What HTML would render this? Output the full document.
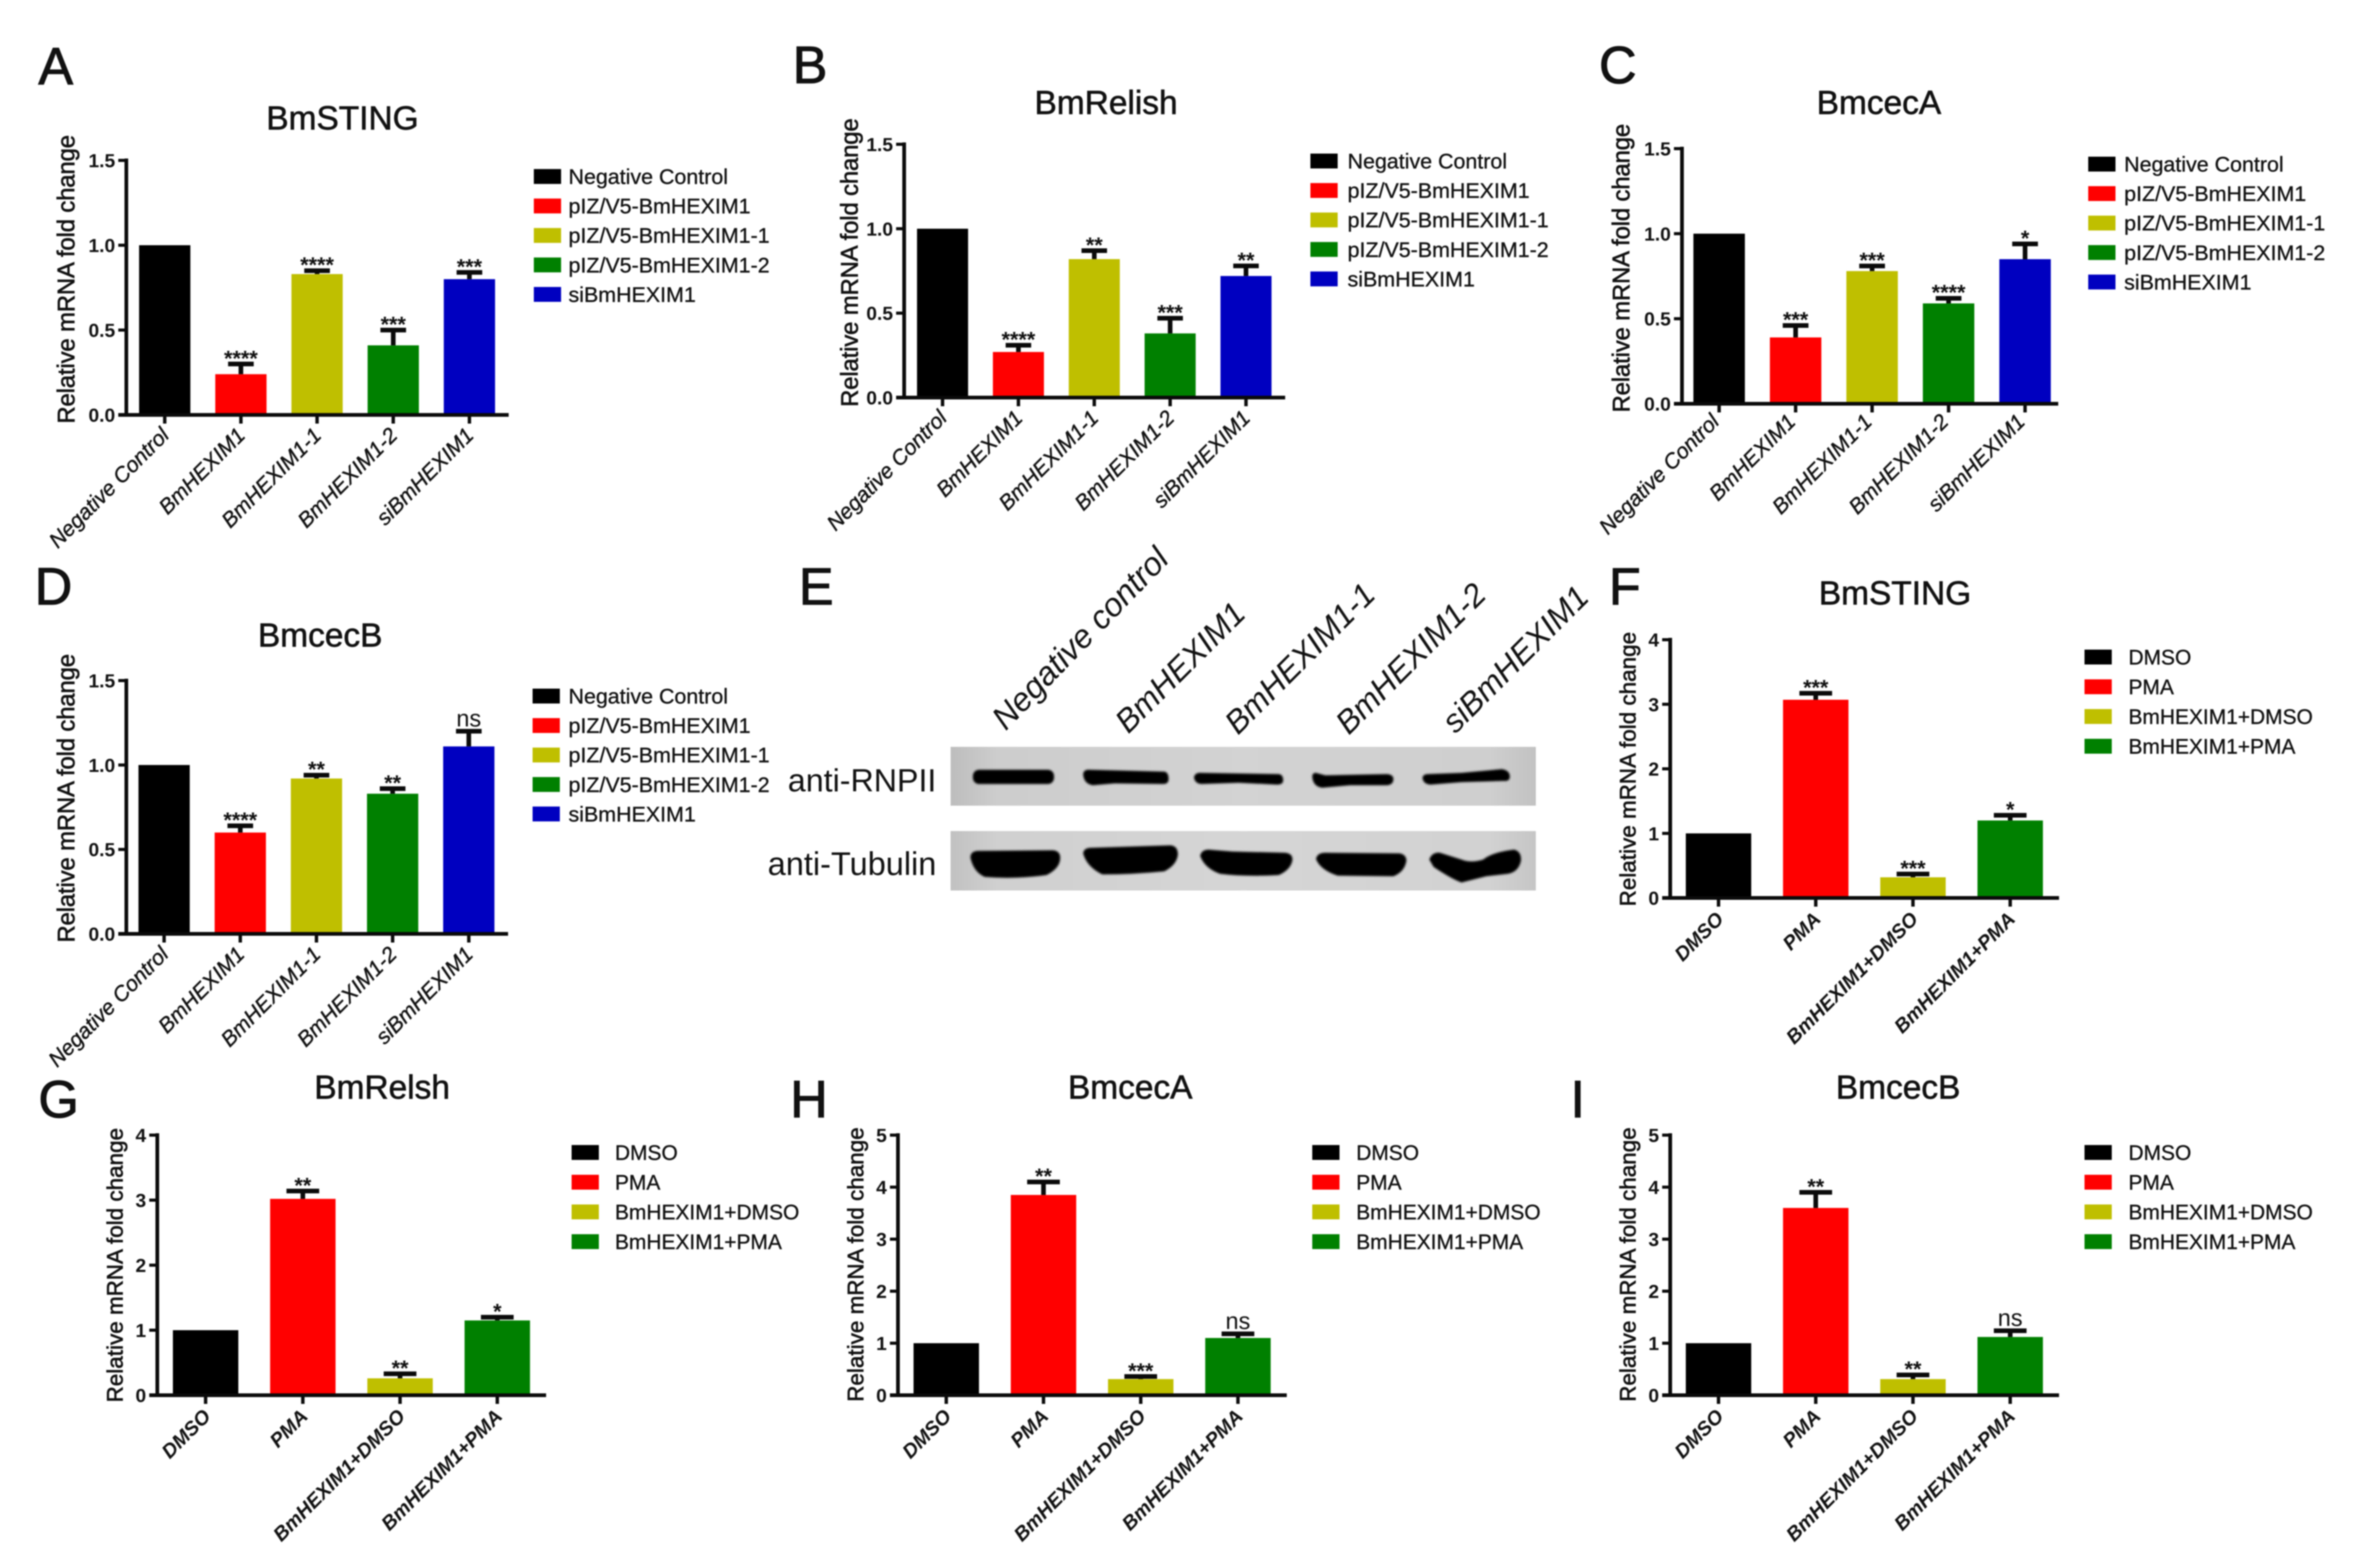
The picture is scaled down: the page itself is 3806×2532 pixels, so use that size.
<!DOCTYPE html>
<html lang="en">
<head>
<meta charset="utf-8">
<title>BmHEXIM1 multi-panel figure</title>
<style>
  html, body { margin: 0; padding: 0; background: #fff; }
  #figure { display: block; filter: blur(1px); font-family: "Liberation Sans", Arial, sans-serif; }
  text { fill: #111; }
</style>
</head>
<body>
<svg id="figure" xmlns="http://www.w3.org/2000/svg" width="3806" height="2532" viewBox="0 0 3806 2532">
  <defs>
    <filter id="band-blur" x="-10%" y="-30%" width="120%" height="160%"><feGaussianBlur stdDeviation="1.5"/></filter>
    <linearGradient id="blot-shade" x1="0" y1="0" x2="1" y2="0">
      <stop offset="0" stop-color="#bdbdbd"/>
      <stop offset="0.08" stop-color="#cdcdcd"/>
      <stop offset="0.5" stop-color="#d3d3d3"/>
      <stop offset="0.92" stop-color="#cfcfcf"/>
      <stop offset="1" stop-color="#c2c2c2"/>
    </linearGradient>
  </defs>
  <rect width="3806" height="2532" fill="#fff"/>

  <g font-size="84" stroke="#111" stroke-width="1.5">
    <text x="62" y="136">A</text>
    <text x="1280" y="134">B</text>
    <text x="2582" y="134">C</text>
    <text x="56" y="976">D</text>
    <text x="1290" y="976">E</text>
    <text x="2598" y="976">F</text>
    <text x="62" y="1804">G</text>
    <text x="1276" y="1804">H</text>
    <text x="2536" y="1804">I</text>
  </g>

  <g>
    <rect x="1535" y="1206" width="945" height="95" fill="url(#blot-shade)"/>
    <rect x="1535" y="1342" width="945" height="96" fill="url(#blot-shade)" opacity="0.94"/>
    <g filter="url(#band-blur)" fill="#060606">
      <rect x="1571" y="1243" width="131" height="23" rx="10"/>
      <path d="M1749 1250 Q1750 1242 1760 1243 L1880 1246 Q1887 1247 1887 1258 Q1887 1266 1878 1266 L1800 1265 L1765 1268 Q1750 1266 1749 1250 Z"/>
      <path d="M1928 1255 Q1930 1247 1940 1248 L2065 1250 Q2072 1251 2072 1260 Q2072 1267 2062 1267 L2000 1264 L1940 1266 Q1929 1265 1928 1255 Z"/>
      <path d="M2119 1254 Q2119 1248 2125 1248 L2140 1252 L2240 1250 Q2250 1251 2250 1258 Q2250 1267 2240 1268 L2180 1268 L2135 1272 Q2120 1270 2119 1254 Z"/>
      <path d="M2297 1256 Q2298 1250 2306 1250 L2360 1248 L2425 1242 Q2438 1244 2438 1254 Q2438 1262 2428 1261 L2360 1263 L2310 1267 Q2298 1266 2297 1256 Z"/>
    </g>
    <g filter="url(#band-blur)" fill="#030303">
      <path d="M1567 1385 Q1567 1374 1580 1374 L1700 1373 Q1712 1374 1712 1385 Q1712 1402 1690 1413 Q1640 1420 1590 1416 Q1572 1408 1567 1385 Z"/>
      <path d="M1749 1378 Q1750 1369 1762 1369 L1890 1365 Q1902 1366 1902 1380 Q1900 1397 1880 1407 Q1830 1412 1780 1412 Q1755 1400 1749 1378 Z"/>
      <path d="M1938 1382 Q1940 1372 1952 1372 L1990 1375 L2075 1377 Q2087 1378 2087 1388 Q2085 1404 2065 1413 Q2010 1416 1970 1411 Q1945 1402 1938 1382 Z"/>
      <path d="M2125 1387 Q2127 1377 2140 1377 L2260 1378 Q2271 1380 2271 1390 Q2268 1408 2250 1415 L2160 1414 Q2132 1405 2125 1387 Z"/>
      <path d="M2308 1388 Q2312 1376 2325 1377 L2360 1388 Q2375 1394 2395 1388 Q2410 1376 2445 1372 Q2457 1375 2456 1390 Q2452 1408 2435 1411 L2400 1415 L2360 1425 Q2345 1420 2315 1400 Z"/>
    </g>
    <text x="1512" y="1278" font-size="52" text-anchor="end">anti-RNPII</text>
    <text x="1512" y="1413" font-size="52.5" text-anchor="end">anti-Tubulin</text>
    <g font-size="52" font-style="italic">
      <text transform="translate(1624 1181) rotate(-46)" font-size="53">Negative control</text>
      <text transform="translate(1822 1186) rotate(-45)">BmHEXIM1</text>
      <text transform="translate(1999 1188) rotate(-45)">BmHEXIM1-1</text>
      <text transform="translate(2178 1188) rotate(-45)">BmHEXIM1-2</text>
      <text transform="translate(2350 1186) rotate(-45)">siBmHEXIM1</text>
    </g>
  </g>

  <g id="charts"></g>
</svg>

<script>
// ---- shared categories, legends and tick labels ----
const categoriesKnockdown = ['Negative Control', 'BmHEXIM1', 'BmHEXIM1-1', 'BmHEXIM1-2', 'siBmHEXIM1'];
const legendKnockdown = ['Negative Control', 'pIZ/V5-BmHEXIM1', 'pIZ/V5-BmHEXIM1-1', 'pIZ/V5-BmHEXIM1-2', 'siBmHEXIM1'];
const categoriesPma = ['DMSO', 'PMA', 'BmHEXIM1+DMSO', 'BmHEXIM1+PMA'];
const legendPma = ['DMSO', 'PMA', 'BmHEXIM1+DMSO', 'BmHEXIM1+PMA'];
const ticksKnockdown = ['0.0', '0.5', '1.0', '1.5'];
const ticksPmaF = ['0', '1', '2', '3', '4'];
const ticksPmaH = ['0', '1', '2', '3', '4', '5'];

// ---- series values ----
const valuesA = [1.0, 0.24, 0.83, 0.41, 0.80];
const errorsA = [0, 0.06, 0.02, 0.09, 0.04];
const marksA = ['', '****', '****', '***', '***'];

const valuesB = [1.0, 0.27, 0.82, 0.38, 0.72];
const errorsB = [0, 0.04, 0.05, 0.09, 0.06];
const marksB = ['', '****', '**', '***', '**'];

const valuesC = [1.0, 0.39, 0.78, 0.59, 0.85];
const errorsC = [0, 0.07, 0.03, 0.03, 0.09];
const marksC = ['', '***', '***', '****', '*'];

const valuesD = [1.0, 0.60, 0.92, 0.83, 1.11];
const errorsD = [0, 0.04, 0.02, 0.03, 0.09];
const marksD = ['', '****', '**', '**', 'ns'];

const valuesF = [1.0, 3.07, 0.32, 1.20];
const errorsF = [0, 0.10, 0.05, 0.08];
const marksF = ['', '***', '***', '*'];

const valuesG = [1.0, 3.02, 0.26, 1.15];
const errorsG = [0, 0.12, 0.07, 0.05];
const marksG = ['', '**', '**', '*'];

const valuesH = [1.0, 3.85, 0.31, 1.10];
const errorsH = [0, 0.25, 0.05, 0.08];
const marksH = ['', '**', '***', 'ns'];

const valuesI = [1.0, 3.60, 0.31, 1.12];
const errorsI = [0, 0.30, 0.08, 0.12];
const marksI = ['', '**', '**', 'ns'];

const barColors = ['#000000', '#ff0000', '#bfbf00', '#008000', '#0000c0'];
const SVG_NS = 'http://www.w3.org/2000/svg';

function make(tag, attrs, parent, content) {
  const node = document.createElementNS(SVG_NS, tag);
  for (const key in attrs) node.setAttribute(key, attrs[key]);
  if (content !== undefined) node.textContent = content;
  parent.appendChild(node);
  return node;
}

function drawChart(cfg) {
  const root = document.getElementById('charts');
  const group = make('g', {}, root);
  
  

  const yMax = parseFloat(cfg.ticks[cfg.ticks.length - 1]);
  const yScale = function (v) { return cfg.y0 - (v / yMax) * (cfg.y0 - cfg.yTop); };
  const xScale = function (i) { return cfg.axisX + cfg.firstOffset + cfg.step * i; };
  const barWidth = cfg.step * 0.673;
  const n = cfg.categories.length;
  const ink = '#0a0a0a';

  const title = make('text', { x: cfg.titleX, y: cfg.titleY, 'font-size': 54, 'text-anchor': 'middle', stroke: '#111', 'stroke-width': 0.9 }, group, cfg.title);
  
  

  const yTitle = make('text', { transform: 'translate(' + cfg.yTitleX + ' ' + cfg.yTitleY + ') rotate(-90)', 'font-size': cfg.yTitleSize, 'text-anchor': 'middle', stroke: '#111', 'stroke-width': 0.9, textLength: cfg.yTitleLength, lengthAdjust: 'spacing' }, group, 'Relative mRNA fold change');
  
  

  cfg.values.forEach(function (value, i) {
    const cx = xScale(i);
    const bar = make('rect', { x: cx - barWidth / 2, y: yScale(value), width: barWidth, height: cfg.y0 - yScale(value), fill: barColors[i] }, group);
    
    

    const err = cfg.errors[i];
    if (err > 0) {
      const capY = yScale(value + err);
      const stem = make('line', { x1: cx, x2: cx, y1: yScale(value), y2: capY, stroke: ink, 'stroke-width': 7.5 }, group);
      
      
      const cap = make('line', { x1: cx - barWidth / 4, x2: cx + barWidth / 4, y1: capY, y2: capY, stroke: ink, 'stroke-width': 7.5 }, group);
      
      
    }

    const mark = cfg.marks[i];
    if (mark) {
      const topY = yScale(value + err);
      const isNs = mark === 'ns';
      const sig = make('text', { x: cx, y: isNs ? topY - 8 : topY + 3, 'font-size': isNs ? 38 : 35, 'font-weight': isNs ? 'normal' : 'bold', 'text-anchor': 'middle' }, group, mark);
      
      
    }

    const tick = make('line', { x1: cx, x2: cx, y1: cfg.y0, y2: cfg.y0 + 14, stroke: ink, 'stroke-width': 5.5 }, group);
    
    

    const labelX = cx + cfg.labelDx;
    const labelY = cfg.y0 + cfg.labelDy;
    const label = make('text', { transform: 'translate(' + labelX + ' ' + labelY + ') rotate(-45)', 'font-size': cfg.labelSize, 'font-style': 'italic', 'font-weight': cfg.labelWeight, 'text-anchor': 'end', stroke: '#111', 'stroke-width': cfg.labelStroke }, group, cfg.categories[i]);
    
    
  });

  const yAxis = make('line', { x1: cfg.axisX, x2: cfg.axisX, y1: cfg.yTop - 3, y2: cfg.y0 + 3, stroke: ink, 'stroke-width': cfg.axisWidth }, group);
  
  

  const xEnd = xScale(n - 1) + barWidth / 2 + cfg.axisOverhang;
  const xAxis = make('line', { x1: cfg.axisX - 13, x2: xEnd, y1: cfg.y0, y2: cfg.y0, stroke: ink, 'stroke-width': cfg.axisWidth }, group);
  
  

  cfg.ticks.forEach(function (tickLabel) {
    const y = yScale(parseFloat(tickLabel));
    const yTick = make('line', { x1: cfg.axisX - 13, x2: cfg.axisX, y1: y, y2: y, stroke: ink, 'stroke-width': 5 }, group);
    
    
    const yLabel = make('text', { x: cfg.axisX - 18, y: y + 11, 'font-size': 31, 'font-weight': 'bold', 'text-anchor': 'end' }, group, tickLabel);
    
    
  });

  cfg.legend.forEach(function (entry, i) {
    const y = cfg.legendY + i * cfg.legendStep;
    const swatch = make('rect', { x: cfg.legendX, y: y - 12, width: 44, height: 24, fill: barColors[i] }, group);
    
    
    const text = make('text', { x: cfg.legendTextX, y: y + 12, 'font-size': cfg.legendSize, stroke: '#111', 'stroke-width': 0.5 }, group, entry);
    
    
  });
}

const knockdownStyle = { axisWidth: 6, axisOverhang: 22, labelDx: 9, labelDy: 35, labelSize: 34.5, labelWeight: 'normal', labelStroke: 0.6, yTitleSize: 38.5, yTitleLength: 466, ticks: ticksKnockdown, categories: categoriesKnockdown, legend: legendKnockdown, legendStep: 47.6, legendSize: 34.6 };
const pmaStyle = { step: 157, firstOffset: 78, axisWidth: 6, axisOverhang: 26, labelDx: 10, labelDy: 36, labelSize: 32, labelWeight: 'bold', labelStroke: 0, yTitleSize: 36, yTitleLength: 443, categories: categoriesPma, legend: legendPma, legendStep: 48, legendSize: 33.8 };

drawChart(Object.assign({}, knockdownStyle, { title: 'BmSTING', titleX: 553, titleY: 209, yTitleX: 120, yTitleY: 451, axisX: 204, firstOffset: 62, step: 123, y0: 670, yTop: 259, legendX: 862, legendTextX: 918, legendY: 285, values: valuesA, errors: errorsA, marks: marksA }));
drawChart(Object.assign({}, knockdownStyle, { title: 'BmRelish', titleX: 1786, titleY: 184, yTitleX: 1385, yTitleY: 424, axisX: 1460, firstOffset: 62, step: 122.5, y0: 642, yTop: 233, legendX: 2116, legendTextX: 2176, legendY: 260, values: valuesB, errors: errorsB, marks: marksB }));
drawChart(Object.assign({}, knockdownStyle, { title: 'BmcecA', titleX: 3034, titleY: 184, yTitleX: 2631, yTitleY: 433, axisX: 2716, firstOffset: 60, step: 123.5, y0: 652, yTop: 240, axisOverhang: 12, labelDx: 2, labelDy: 31, legendX: 3372, legendTextX: 3430, legendY: 265, values: valuesC, errors: errorsC, marks: marksC }));
drawChart(Object.assign({}, knockdownStyle, { title: 'BmcecB', titleX: 517, titleY: 1044, yTitleX: 120, yTitleY: 1289, axisX: 204, firstOffset: 61, step: 123, y0: 1508, yTop: 1099, legendX: 860, legendTextX: 918, legendY: 1124, values: valuesD, errors: errorsD, marks: marksD }));

drawChart(Object.assign({}, pmaStyle, { title: 'BmSTING', titleX: 3060, titleY: 976, yTitleX: 2641, yTitleY: 1242, axisX: 2697, y0: 1450, yTop: 1033, ticks: ticksPmaF, legendX: 3366, legendTextX: 3437, legendY: 1061, values: valuesF, errors: errorsF, marks: marksF }));
drawChart(Object.assign({}, pmaStyle, { title: 'BmRelsh', titleX: 617, titleY: 1774, yTitleX: 198, yTitleY: 2043, axisX: 254, y0: 2253, yTop: 1833, ticks: ticksPmaF, legendX: 923, legendTextX: 993, legendY: 1861, values: valuesG, errors: errorsG, marks: marksG }));
drawChart(Object.assign({}, pmaStyle, { title: 'BmcecA', titleX: 1825, titleY: 1774, yTitleX: 1394, yTitleY: 2042, axisX: 1450, y0: 2253, yTop: 1833, ticks: ticksPmaH, legendX: 2119, legendTextX: 2190, legendY: 1861, values: valuesH, errors: errorsH, marks: marksH }));
drawChart(Object.assign({}, pmaStyle, { title: 'BmcecB', titleX: 3065, titleY: 1774, yTitleX: 2641, yTitleY: 2042, axisX: 2697, y0: 2253, yTop: 1833, ticks: ticksPmaH, legendX: 3366, legendTextX: 3437, legendY: 1861, values: valuesI, errors: errorsI, marks: marksI }));
</script>
</body>
</html>
